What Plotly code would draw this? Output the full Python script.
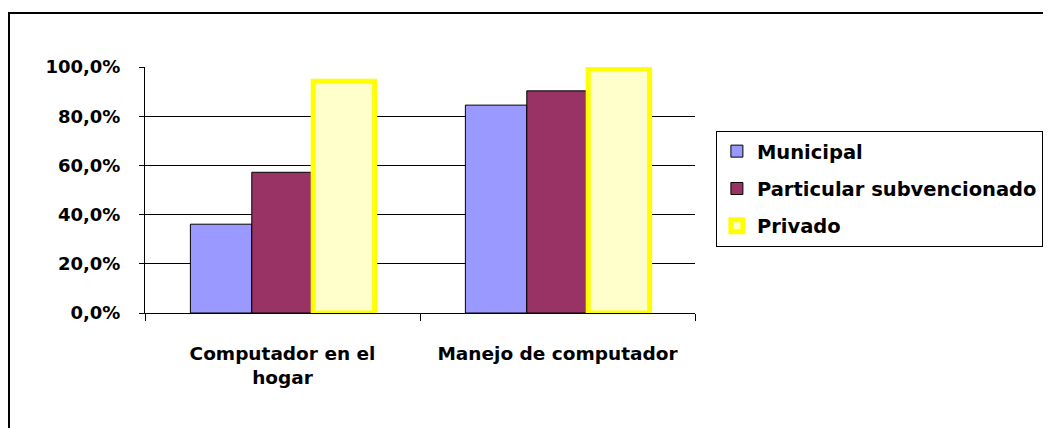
import plotly.graph_objects as go

# data
categorias = ["Computador en el<br>hogar", "Manejo de computador"]
municipal = [0.361, 0.845]
particular_subv = [0.572, 0.903]
privado = [0.942, 0.994]

series = [
    ("Municipal", municipal, "#9999FF", "black", 1),
    ("Particular subvencionado", particular_subv, "#993366", "black", 1),
    ("Privado", privado, "#FFFFCC", "#FFFF00", 5),
]

FONT = "DejaVu Sans"

fig = go.Figure()
for i, (name, vals, fill, edge, lw) in enumerate(series):
    fig.add_trace(go.Bar(
        name=name, x=categorias, y=vals,
        marker=dict(color=fill, line=dict(color=edge, width=lw)),
        legendgroup=f"g{i}",
    ))

fig.update_layout(
    width=1051, height=428,
    margin=dict(l=137, r=364, t=59, b=123),
    paper_bgcolor="white", plot_bgcolor="white",
    barmode="group", bargap=0.33, bargroupgap=0,
    separators=",.",
    font=dict(family=FONT, size=18, color="black"),
    showlegend=True,
    legend=dict(
        x=1.038, y=0.74, xanchor="left", yanchor="top",
        bordercolor="black", borderwidth=1, bgcolor="white",
        font=dict(family=FONT, size=19.5, color="black", weight="bold"),
        tracegroupgap=9, itemwidth=30,
    ),
    shapes=[dict(
        type="rect", xref="paper", yref="paper",
        x0=-0.2473, x1=1.7, y0=-0.6, y1=1.2195,
        line=dict(color="black", width=2),
    )],
)

fig.update_xaxes(
    showline=True, linecolor="black", linewidth=1,
    ticks="outside", tickson="boundaries", ticklen=7, tickcolor="black",
    tickfont=dict(family=FONT, size=18.5, weight="bold"),
    ticklabelstandoff=24,
    showgrid=False,
)
fig.update_yaxes(
    range=[0, 1], dtick=0.2, tickformat=".1%",
    showline=True, linecolor="black", linewidth=1,
    ticks="outside", ticklen=5, tickcolor="black",
    showgrid=True, gridcolor="black", gridwidth=1,
    tickfont=dict(family=FONT, size=18, weight="bold"),
    ticklabelstandoff=15,
    zeroline=False,
)

fig.write_html("out.html")
